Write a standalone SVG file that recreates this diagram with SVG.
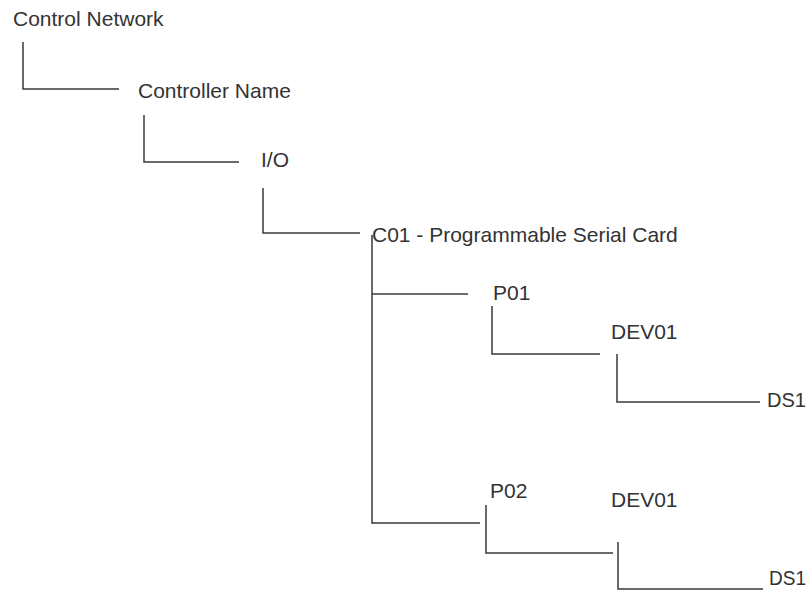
<svg xmlns="http://www.w3.org/2000/svg" width="809" height="590" viewBox="0 0 809 590">
<style>
.t{font-family:"Liberation Sans",Arial,sans-serif;font-size:21px;fill:#333333}
.c{fill:none;stroke:#3a3a3a;stroke-width:1.5}
</style>
<rect width="809" height="590" fill="#ffffff"/>
<g id="connectors">
<path class="c" d="M23 42V89H119"/>
<path class="c" d="M144 115V162H239"/>
<path class="c" d="M263 188V233H360"/>
<path class="c" d="M372 235V523H480"/>
<path class="c" d="M372 294H468"/>
<path class="c" d="M492 306V354H600"/>
<path class="c" d="M617 354V402H760"/>
<path class="c" d="M486 505V553H613"/>
<path class="c" d="M618 542V589H763"/>
</g>
<g id="n-control-network"><text class="t" x="13" y="26">Control Network</text></g>
<g id="n-controller-name"><text class="t" x="138" y="98">Controller Name</text></g>
<g id="n-io"><text class="t" x="261" y="167">I/O</text></g>
<g id="n-c01"><text class="t" x="372" y="242">C01 - Programmable Serial Card</text></g>
<g id="n-p01"><text class="t" x="493" y="300">P01</text></g>
<g id="n-dev01-a"><text class="t" x="611" y="339">DEV01</text></g>
<g id="n-ds1-a"><text class="t" x="767" y="407" textLength="39" lengthAdjust="spacingAndGlyphs">DS1</text></g>
<g id="n-p02"><text class="t" x="490" y="498">P02</text></g>
<g id="n-dev01-b"><text class="t" x="611" y="507">DEV01</text></g>
<g id="n-ds1-b"><text class="t" x="769" y="585" textLength="37" lengthAdjust="spacingAndGlyphs">DS1</text></g>
</svg>
